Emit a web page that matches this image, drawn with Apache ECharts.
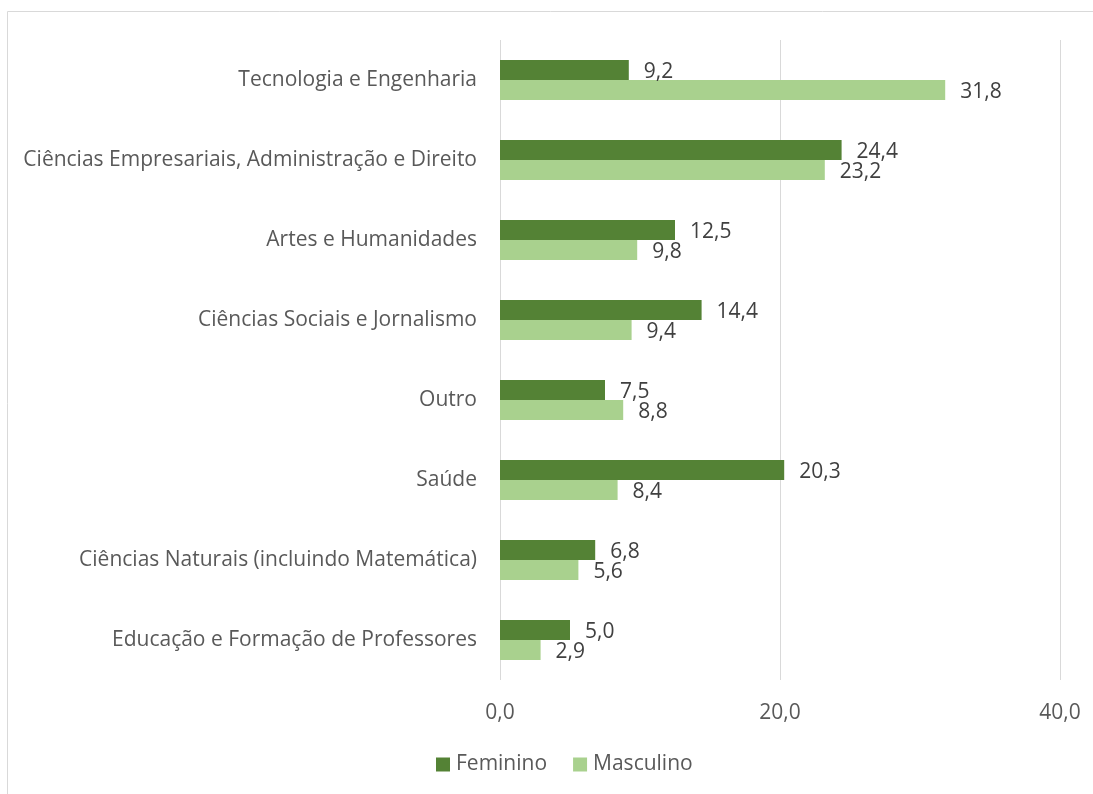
<!DOCTYPE html>
<html style="height: 100%">
<head>
<meta charset="utf-8">
<script src="https://cdn.jsdelivr.net/npm/echarts@6/dist/echarts.min.js"></script>
</head>
<body style="height: 100%; margin: 0">
<div id="container" style="width:1093px;height:794px"></div>
<script type="text/javascript">
// dados (de cima para baixo)
var categorias = ["Tecnologia e Engenharia", "Ciências Empresariais, Administração e Direito", "Artes e Humanidades",
	"Ciências Sociais e Jornalismo", "Outro", "Saúde", "Ciências Naturais (incluindo Matemática)",
	"Educação e Formação de Professores"];
var feminino = [9.2, 24.4, 12.5, 14.4, 7.5, 20.3, 6.8, 5.0];
var masculino = [31.8, 23.2, 9.8, 9.4, 8.8, 8.4, 5.6, 2.9];
var ticksX = [0, 20, 40];

var myChart = echarts.init(document.getElementById("container"));
var txt = '#595959';
var fonte = '"Open Sans", "Noto Sans", sans-serif';

function fmt(v) { return v.toFixed(1).replace('.', ','); }

var rotulo = {
	show: true,
	position: 'right',
	distance: 15,
	offset: [0, 2],
	color: '#404040',
	fontSize: 21,
	fontFamily: fonte,
	formatter: function (p) { return fmt(p.value); }
};

var option = {
	animation: false,
	textStyle: { fontFamily: fonte },
	graphic: [{
		type: 'rect',
		shape: { x: 7.5, y: 11.5, width: 1200, height: 1000 },
		style: { fill: 'none', stroke: '#d9d9d9', lineWidth: 1 }
	}],
	grid: { left: 500, right: 33, top: 40, bottom: 114, containLabel: false },
	legend: {
		data: ['Feminino', 'Masculino'],
		bottom: 14,
		left: 431,
		itemWidth: 14,
		itemHeight: 14,
		itemGap: 26,
		icon: 'rect',
		textStyle: { color: txt, fontSize: 21, fontFamily: fonte, padding: [0, 0, 0, 1] }
	},
	xAxis: {
		type: 'value',
		min: ticksX[0],
		max: ticksX[ticksX.length - 1],
		interval: 20,
		axisLine: { show: false },
		axisTick: { show: false },
		splitLine: { lineStyle: { color: '#d9d9d9' } },
		axisLabel: { color: txt, fontSize: 21, margin: 23, formatter: function (v) { return fmt(v); } }
	},
	yAxis: {
		type: 'category',
		inverse: true,
		data: categorias,
		axisLine: { show: false },
		axisTick: { show: false },
		axisLabel: { color: txt, fontSize: 21, margin: 23, padding: [4, 0, 0, 0] }
	},
	series: [{
		name: 'Feminino',
		type: 'bar',
		data: feminino,
		barWidth: 20,
		barGap: '0%',
		itemStyle: { color: '#548235' },
		label: rotulo
	}, {
		name: 'Masculino',
		type: 'bar',
		data: masculino,
		barWidth: 20,
		barGap: '0%',
		itemStyle: { color: '#a9d18e' },
		label: rotulo
	}]
};
myChart.setOption(option, true);
</script>
</body>
</html>
